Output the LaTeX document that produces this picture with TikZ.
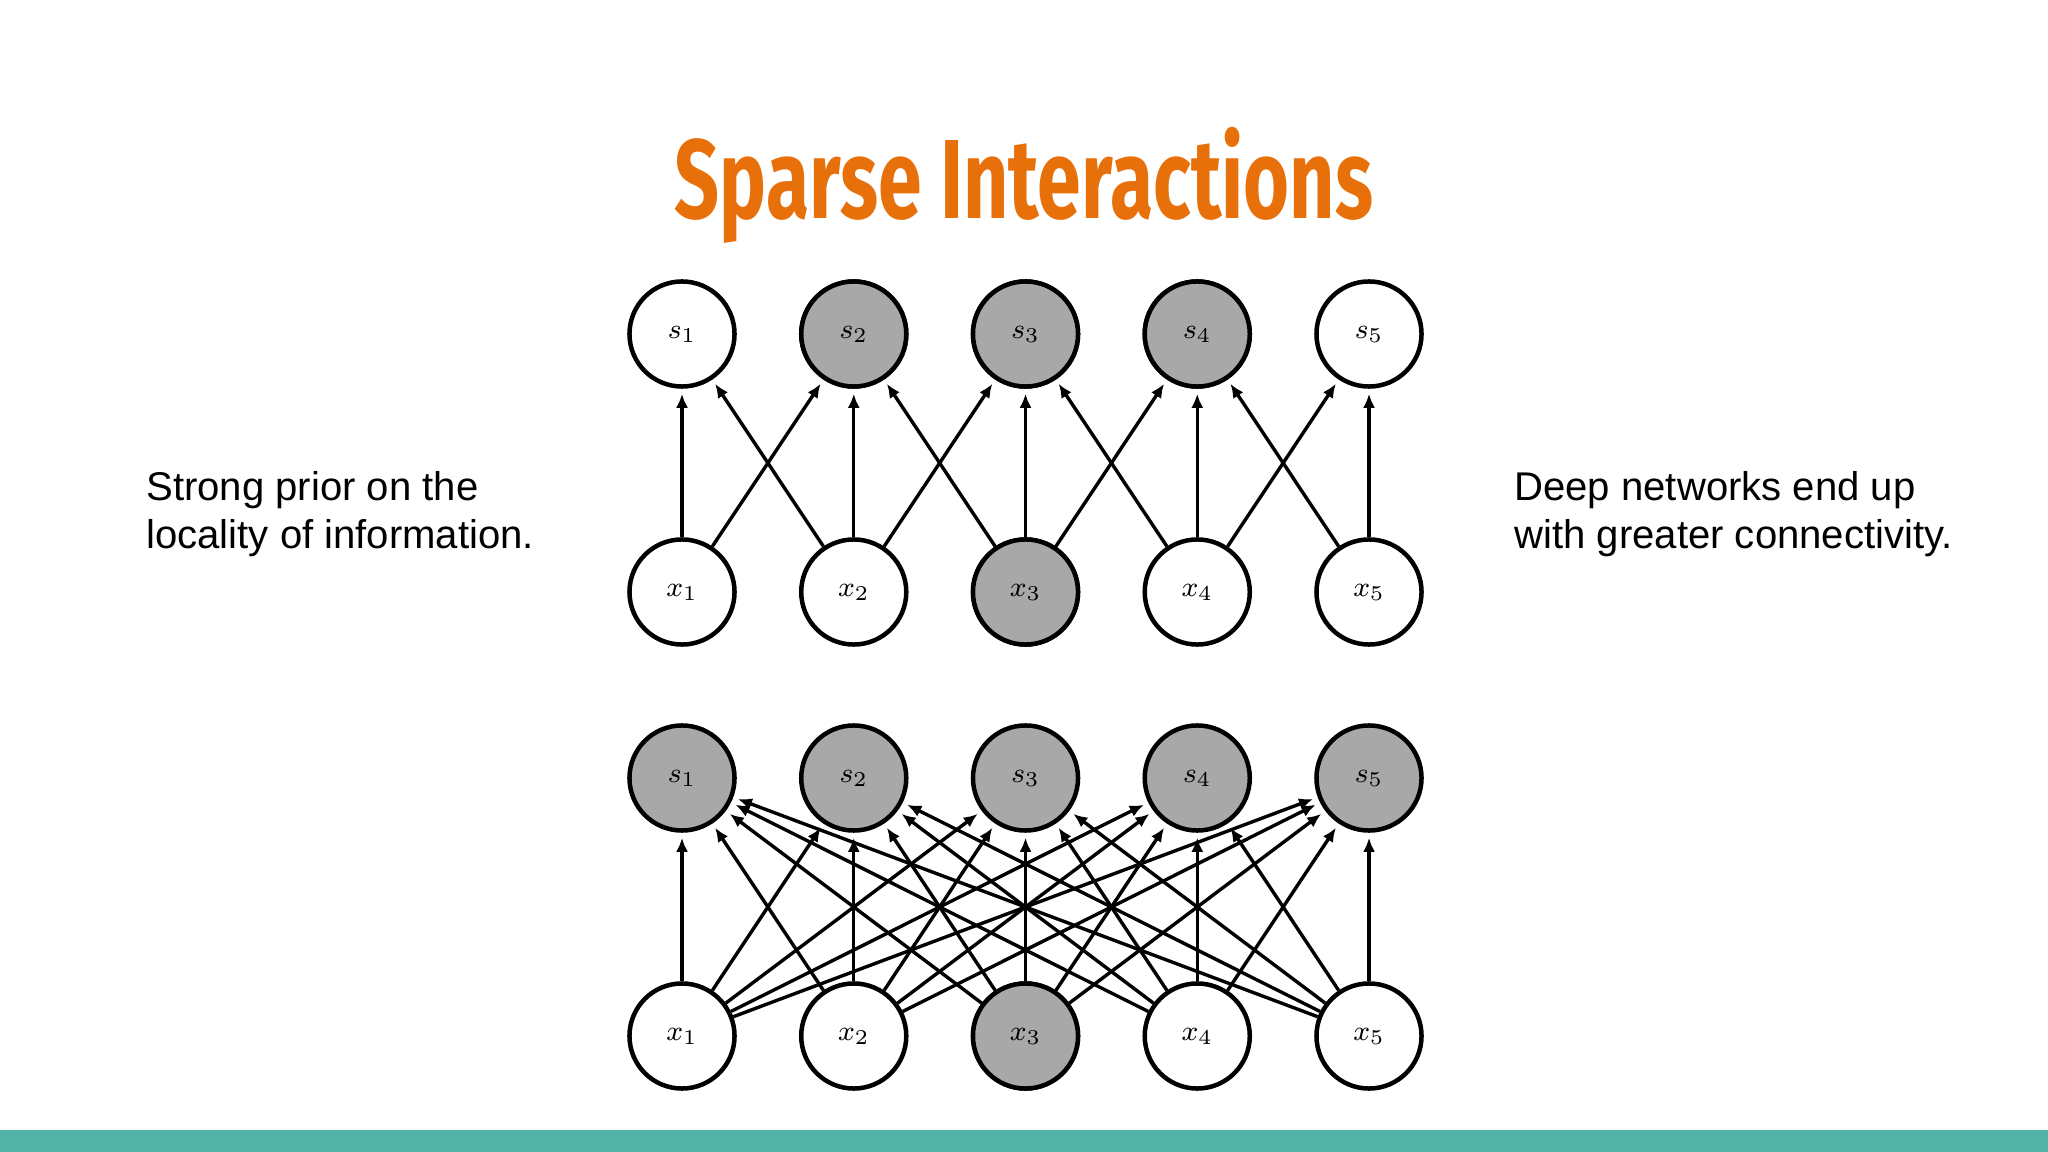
\documentclass[tikz,border=0pt]{standalone}
\usepackage[no-math]{fontspec}
\setmainfont{Liberation Sans}
\newfontfamily\titlefont[FakeStretch=0.70]{Fira Sans}
\usetikzlibrary{arrows.meta}
\definecolor{cOrange}{RGB}{232,112,10}
\definecolor{cTeal}{RGB}{82,180,167}
\definecolor{cGray}{RGB}{168,168,168}

\begin{document}
\begin{tikzpicture}[x=0.01cm, y=-0.01cm,
            unit/.style={circle, draw=black, line width=0.45mm, fill=white, minimum size=10.5mm, inner sep=0pt, font=\fontsize{8.5}{10}\selectfont},
            act/.style={fill=cGray},
            ed/.style={draw=black, line width=0.34mm, -{Latex[length=1.4mm, width=1.2mm]}, shorten >=0.5mm},
            side/.style={align=left, anchor=base west, font=\fontsize{11.4}{13.4}\selectfont}]
            \useasboundingbox (0,0) rectangle (2048,1152);
            \fill[cTeal] (0,1130) rectangle (2048,1152);
            \node[anchor=base, text=cOrange, font=\titlefont\bfseries\fontsize{32}{36}\selectfont] (title) at (1024,219) {Sparse Interactions};
            % top: sparse connections
            \foreach \i in {1,...,5} {
                \node[unit] (ts\i) at ({682+171.75*(\i-1)},334) {$s_{\i}$};
                \node[unit] (tx\i) at ({682+171.75*(\i-1)},592) {$x_{\i}$};
            }
            \foreach \n in {ts2,ts3,ts4,tx3} { \node[unit, act] at (\n) {}; }
            \node at (ts2) {\fontsize{8.5}{10}\selectfont$s_{2}$};
            \node at (ts3) {\fontsize{8.5}{10}\selectfont$s_{3}$};
            \node at (ts4) {\fontsize{8.5}{10}\selectfont$s_{4}$};
            \node at (tx3) {\fontsize{8.5}{10}\selectfont$x_{3}$};
            \foreach \i in {1,...,5} { \draw[ed] (tx\i) -- (ts\i); }
            \foreach \i/\j in {1/2,2/1,2/3,3/2,3/4,4/3,4/5,5/4} { \draw[ed] (tx\i) -- (ts\j); }
            % bottom: full connections
            \foreach \i in {1,...,5} {
                \node[unit, act] (bs\i) at ({682+171.75*(\i-1)},778) {$s_{\i}$};
                \node[unit] (bx\i) at ({682+171.75*(\i-1)},1036) {$x_{\i}$};
            }
            \node[unit, act] (bx3) at (bx3) {$x_{3}$};
            \foreach \i in {1,...,5} {
                \foreach \j in {1,...,5} { \draw[ed] (bx\i) -- (bs\j); }
            }
            \node[side] (prior) at (134,548) {Strong prior on the\\locality of information.};
            \node[side] (deep) at (1502,548) {Deep networks end up\\with greater connectivity.};
        \end{tikzpicture}
\end{document}
